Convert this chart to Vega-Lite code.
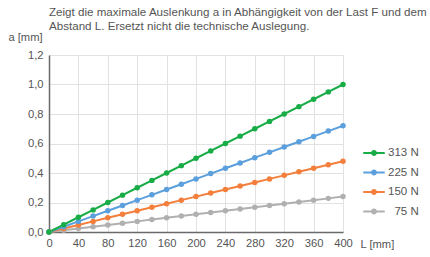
{
  "$schema": "https://vega.github.io/schema/vega-lite/v6.json",
  "width": 294,
  "height": 177,
  "autosize": {"type": "none"},
  "padding": {"left": 49, "top": 55, "right": 87, "bottom": 25},
  "background": "white",
  "title": {
    "text": ["Zeigt die maximale Auslenkung a in Abhängigkeit von der Last F und dem", "Abstand L. Ersetzt nicht die technische Auslegung."],
    "anchor": "start",
    "frame": "group",
    "fontSize": 11.6,
    "fontWeight": "normal",
    "font": "Liberation Sans",
    "color": "#555555",
    "lineHeight": 14.5,
    "offset": -2
  },
  "config": {
    "view": {"stroke": null},
    "font": "Liberation Sans",
    "axis": {
      "labelFont": "Liberation Sans",
      "labelFontSize": 11.2,
      "labelColor": "#555555",
      "titleFont": "Liberation Sans",
      "titleFontSize": 11.2,
      "titleFontWeight": "normal",
      "titleColor": "#555555",
      "gridColor": "#e2e2e2",
      "gridWidth": 1,
      "domainColor": "#6a6a6a",
      "domainWidth": 1.5,
      "ticks": false
    },
    "legend": {
      "labelFont": "Liberation Sans",
      "labelFontSize": 11.5,
      "labelColor": "#555555"
    }
  },
  "data": {
    "values": [
      {"L":0,"a":0,"F":"75 N"},{"L":20,"a":0.012,"F":"75 N"},{"L":40,"a":0.024,"F":"75 N"},{"L":60,"a":0.036,"F":"75 N"},{"L":80,"a":0.048,"F":"75 N"},{"L":100,"a":0.06,"F":"75 N"},{"L":120,"a":0.072,"F":"75 N"},{"L":140,"a":0.084,"F":"75 N"},{"L":160,"a":0.096,"F":"75 N"},{"L":180,"a":0.108,"F":"75 N"},{"L":200,"a":0.12,"F":"75 N"},{"L":220,"a":0.132,"F":"75 N"},{"L":240,"a":0.144,"F":"75 N"},{"L":260,"a":0.156,"F":"75 N"},{"L":280,"a":0.168,"F":"75 N"},{"L":300,"a":0.18,"F":"75 N"},{"L":320,"a":0.192,"F":"75 N"},{"L":340,"a":0.204,"F":"75 N"},{"L":360,"a":0.216,"F":"75 N"},{"L":380,"a":0.228,"F":"75 N"},{"L":400,"a":0.24,"F":"75 N"},
      {"L":0,"a":0,"F":"150 N"},{"L":20,"a":0.024,"F":"150 N"},{"L":40,"a":0.048,"F":"150 N"},{"L":60,"a":0.072,"F":"150 N"},{"L":80,"a":0.096,"F":"150 N"},{"L":100,"a":0.12,"F":"150 N"},{"L":120,"a":0.144,"F":"150 N"},{"L":140,"a":0.168,"F":"150 N"},{"L":160,"a":0.192,"F":"150 N"},{"L":180,"a":0.216,"F":"150 N"},{"L":200,"a":0.24,"F":"150 N"},{"L":220,"a":0.264,"F":"150 N"},{"L":240,"a":0.288,"F":"150 N"},{"L":260,"a":0.312,"F":"150 N"},{"L":280,"a":0.336,"F":"150 N"},{"L":300,"a":0.36,"F":"150 N"},{"L":320,"a":0.384,"F":"150 N"},{"L":340,"a":0.408,"F":"150 N"},{"L":360,"a":0.432,"F":"150 N"},{"L":380,"a":0.456,"F":"150 N"},{"L":400,"a":0.48,"F":"150 N"},
      {"L":0,"a":0,"F":"225 N"},{"L":20,"a":0.036,"F":"225 N"},{"L":40,"a":0.072,"F":"225 N"},{"L":60,"a":0.108,"F":"225 N"},{"L":80,"a":0.144,"F":"225 N"},{"L":100,"a":0.18,"F":"225 N"},{"L":120,"a":0.216,"F":"225 N"},{"L":140,"a":0.252,"F":"225 N"},{"L":160,"a":0.288,"F":"225 N"},{"L":180,"a":0.324,"F":"225 N"},{"L":200,"a":0.36,"F":"225 N"},{"L":220,"a":0.396,"F":"225 N"},{"L":240,"a":0.432,"F":"225 N"},{"L":260,"a":0.468,"F":"225 N"},{"L":280,"a":0.504,"F":"225 N"},{"L":300,"a":0.54,"F":"225 N"},{"L":320,"a":0.576,"F":"225 N"},{"L":340,"a":0.612,"F":"225 N"},{"L":360,"a":0.648,"F":"225 N"},{"L":380,"a":0.684,"F":"225 N"},{"L":400,"a":0.72,"F":"225 N"},
      {"L":0,"a":0,"F":"313 N"},{"L":20,"a":0.05,"F":"313 N"},{"L":40,"a":0.1,"F":"313 N"},{"L":60,"a":0.15,"F":"313 N"},{"L":80,"a":0.2,"F":"313 N"},{"L":100,"a":0.25,"F":"313 N"},{"L":120,"a":0.3,"F":"313 N"},{"L":140,"a":0.35,"F":"313 N"},{"L":160,"a":0.4,"F":"313 N"},{"L":180,"a":0.45,"F":"313 N"},{"L":200,"a":0.5,"F":"313 N"},{"L":220,"a":0.55,"F":"313 N"},{"L":240,"a":0.6,"F":"313 N"},{"L":260,"a":0.65,"F":"313 N"},{"L":280,"a":0.7,"F":"313 N"},{"L":300,"a":0.75,"F":"313 N"},{"L":320,"a":0.8,"F":"313 N"},{"L":340,"a":0.85,"F":"313 N"},{"L":360,"a":0.9,"F":"313 N"},{"L":380,"a":0.95,"F":"313 N"},{"L":400,"a":1.0,"F":"313 N"}
    ]
  },
  "mark": {"type": "line", "strokeWidth": 2, "point": {"filled": true, "size": 30}},
  "encoding": {
    "x": {
      "field": "L", "type": "quantitative",
      "scale": {"domain": [0, 400], "nice": false},
      "axis": {
        "values": [0,40,80,120,160,200,240,280,320,360,400],
        "labelPadding": 5,
        "title": "L [mm]",
        "titleAlign": "left",
        "titleBaseline": "alphabetic",
        "titleX": 311,
        "titleY": 15,
        "labelFlush": false
      }
    },
    "y": {
      "field": "a", "type": "quantitative",
      "scale": {"domain": [0, 1.2], "nice": false},
      "axis": {
        "values": [0,0.2,0.4,0.6,0.8,1.0,1.2],
        "labelExpr": "replace(format(datum.value, '.1f'), '.', ',')",
        "labelPadding": 6,
        "title": "a [mm]",
        "titleAngle": 0,
        "titleAlign": "center",
        "titleBaseline": "alphabetic",
        "titleX": -24,
        "titleY": -15
      }
    },
    "color": {
      "field": "F", "type": "nominal",
      "scale": {
        "domain": ["313 N", "225 N", "150 N", "75 N"],
        "range": ["#17ac45", "#5b9fdc", "#f47f3c", "#b0b0b0"]
      },
      "legend": {
        "title": null,
        "orient": "none",
        "legendX": 314,
        "legendY": 87,
        "symbolType": "M-1,-0.09L1,-0.09L1,0.09L-1,0.09Z M-0.27,0A0.27,0.27 0 1,1 0.27,0A0.27,0.27 0 1,1 -0.27,0Z",
        "symbolSize": 462,
        "symbolStrokeWidth": 0,
        "labelOffset": 3,
        "rowPadding": 2.5,
        "encode": {
          "symbols": {"update": {"fill": {"scale": "color", "field": "value"}, "fillOpacity": {"value": 1}, "strokeWidth": {"value": 0}}},
          "labels": {"update": {"dx": {"signal": "datum.value == '75 N' ? 6.4 : 0"}}}
        }
      }
    }
  }
}
